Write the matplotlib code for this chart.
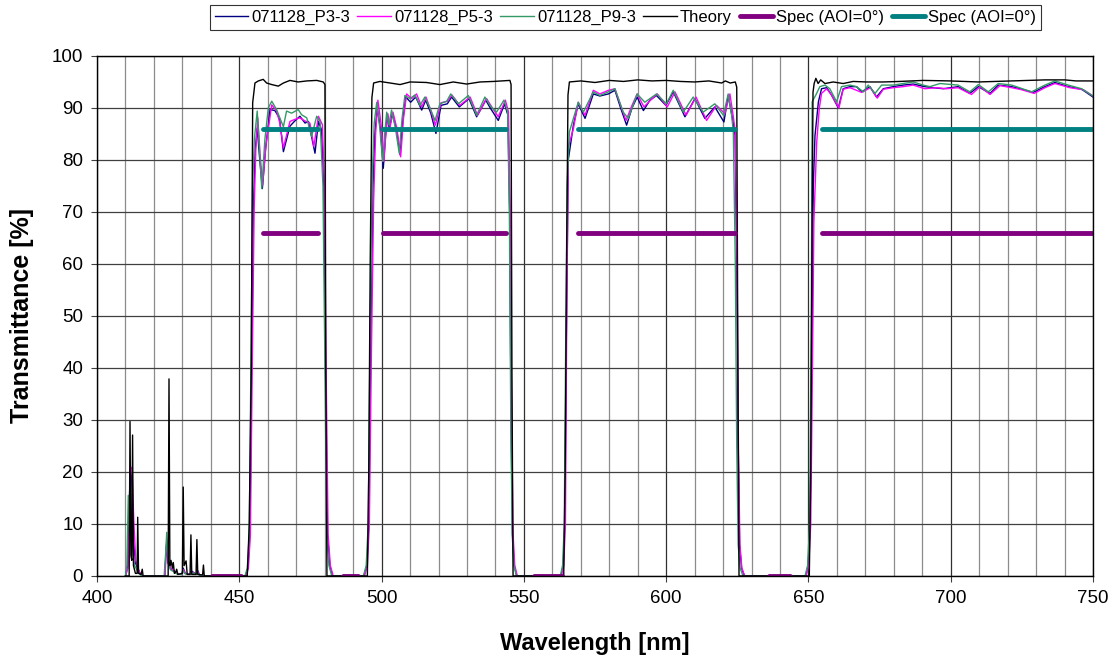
import matplotlib
matplotlib.use("Agg")
import matplotlib.pyplot as plt
import numpy as np

plt.rcParams['font.family'] = ['Liberation Sans', 'DejaVu Sans']

# ---- measured sample P3-3 (navy) ----
wl_p3 = ([410.0, 410.8, 411.2, 411.7, 412.2, 412.8, 413.5, 414.3, 415.0, 416.0, 423.8, 424.4, 425.0,
          425.8, 427.0, 428.0, 429.8, 430.3, 431.0, 432.8, 433.1, 434.9, 435.2, 436.2, 452.2]
         + [453.0, 453.7, 454.3, 455.0, 455.6, 456.3, 457.2, 458.1, 459.2, 460.8, 462.5, 464.1, 465.5,
            467.8, 469.5, 471.3, 473.1, 474.3, 476.6, 477.8, 478.9, 479.7, 480.3, 481.0, 481.8, 482.8]
         + [493.8, 494.8, 495.5, 496.2, 497.0, 497.6, 498.5, 499.6, 500.6, 501.3, 502.0, 502.7, 503.8,
            505.2, 506.5, 507.5, 508.5, 510.2, 512.0, 514.1, 515.5, 517.3, 519.1, 520.9, 523.1, 524.6,
            527.3, 530.7, 533.4, 536.6, 538.3, 541.0, 543.2, 544.4, 545.0, 545.5, 546.0, 546.6, 547.5]
         + [563.0, 563.8, 564.4, 564.9, 565.6, 567.4, 569.1, 571.5, 574.4, 576.7, 579.7, 582.0, 584.0,
            586.1, 588.0, 589.8, 592.0, 594.3, 596.6, 599.9, 602.5, 606.6, 610.1, 613.6, 617.1, 620.3,
            621.8, 623.3, 624.2, 624.8, 625.3, 625.8, 626.5, 627.5]
         + [649.0, 649.9, 650.6, 651.2, 651.7, 652.3, 653.5, 654.6, 656.4, 658.1, 660.5, 662.2, 664.6,
            666.9, 668.7, 671.6, 673.9, 676.3, 679.8, 683.3, 686.8, 690.9, 693.8, 697.4, 702.6, 706.7,
            709.7, 713.8, 716.7, 721.4, 725.0, 729.0, 733.1, 736.6, 741.3, 746.0, 750.0])
t_p3 = ([0, 2, 12, 20, 19, 7, 2.5, 1.5, 0.6, 0, 0, 6, 2.5,
         1.5, 1.0, 0.5, 0.3, 1.5, 0.5, 0.3, 1.0, 0.3, 1.2, 0, 0]
        + [1.5, 8, 40, 72, 82, 86.1, 80, 74.5, 82, 89.7, 89.5, 88.1, 81.6,
           86.5, 87.5, 88.4, 87.1, 87.4, 81.3, 87.4, 85.8, 75, 40, 8, 2, 0]
        + [0, 2, 10, 45, 75, 85, 89.9, 86, 78.4, 84, 88.6, 86.0, 88.9,
           86, 81.0, 88, 92.1, 91.1, 92.1, 89.6, 91.5, 89, 85.1, 90.5, 90.8, 92.1,
           90.2, 91.8, 88.3, 91.5, 89.9, 87.6, 90.8, 88.6, 70, 30, 8, 2, 0]
        + [0, 2, 10, 45, 80.0, 86.7, 90.8, 88.0, 92.7, 92.3, 92.7, 93.4, 90,
           86.7, 90, 92.1, 89.5, 91.5, 92.4, 90.5, 93.1, 88.3, 91.8, 88.0, 90.2, 87.3,
           92.4, 88.0, 84.8, 60, 25, 6, 1.5, 0]
        + [0, 2, 10, 45, 75, 84.7, 91.2, 93.7, 93.9, 92.5, 90.0, 93.7, 94.1,
           94.1, 93.1, 94.1, 92.1, 93.7, 94.1, 94.4, 94.6, 94.1, 93.9, 93.7, 94.1, 92.8,
           94.1, 92.8, 94.4, 94.1, 93.6, 93.0, 94.1, 94.9, 94.1, 93.6, 92.1])

# ---- measured sample P5-3 (magenta) ----
wl_p5 = ([410.0, 410.9, 411.3, 411.8, 412.3, 412.9, 413.6, 414.4, 415.1, 416.1, 423.9, 424.5, 425.1,
          425.9, 427.1, 428.1, 429.9, 430.4, 431.1, 432.9, 433.2, 435.0, 435.3, 436.3, 452.4]
         + [453.2, 453.9, 454.5, 455.2, 455.8, 456.5, 457.3, 458.2, 459.4, 461.4, 463.1, 464.3, 465.5,
            467.8, 469.5, 471.3, 473.1, 474.8, 476.2, 477.8, 479.2, 479.9, 480.5, 481.2, 482.0, 483.0]
         + [494.0, 495.0, 495.7, 496.4, 497.2, 497.9, 498.7, 499.8, 500.8, 501.5, 502.2, 503.0, 504.0,
            505.4, 506.7, 507.7, 508.8, 510.6, 512.3, 514.1, 515.6, 517.3, 518.9, 520.9, 523.2, 524.7,
            527.5, 531.1, 533.7, 536.9, 538.7, 541.0, 543.5, 544.6, 545.2, 545.7, 546.2, 546.8, 547.7]
         + [563.2, 564.0, 564.6, 565.0, 565.6, 567.4, 569.1, 571.5, 574.4, 576.7, 579.7, 582.0, 584.0,
            585.9, 588.0, 589.8, 592.2, 594.5, 596.9, 600.4, 603.1, 607.0, 610.5, 614.2, 617.7, 620.6,
            622.4, 623.6, 624.3, 624.9, 625.4, 625.9, 626.6, 627.6]
         + [649.2, 650.1, 650.8, 651.4, 651.9, 652.9, 653.8, 654.6, 656.4, 658.1, 660.7, 662.2, 664.6,
            668.7, 671.8, 674.2, 676.3, 679.8, 683.3, 686.8, 690.9, 695.0, 698.5, 702.6, 707.3, 710.3,
            713.8, 717.3, 721.4, 725.0, 729.3, 733.1, 736.6, 741.9, 746.6, 750.0])
t_p5 = ([0, 1.5, 10, 21, 20.6, 11, 3, 1.5, 0.6, 0, 0, 7, 2.5,
         1.5, 1.0, 0.5, 0.3, 1.2, 0.5, 0.3, 0.8, 0.3, 1.0, 0, 0]
        + [1.5, 8, 38, 70, 82, 88.1, 81, 75.2, 83, 90.6, 89.4, 87, 82.3,
           87.4, 87.8, 88.1, 87.5, 87.1, 82.6, 88.4, 86.8, 75, 40, 8, 2, 0]
        + [0, 2, 10, 42, 72, 85, 91.5, 87, 79.7, 85, 88.9, 86.4, 89.2,
           86, 80.6, 88, 92.7, 91.8, 92.7, 90.2, 92.1, 89.5, 86.7, 91.0, 91.3, 92.5,
           90.5, 92.1, 88.6, 91.8, 90.2, 88.3, 91.5, 89.2, 70, 30, 8, 2, 0]
        + [0, 2, 10, 45, 82.5, 86.0, 91.1, 88.6, 93.4, 92.7, 93.4, 93.7, 90.5,
           87.6, 90.5, 92.7, 90.2, 91.5, 92.7, 90.2, 93.1, 88.6, 92.1, 87.6, 90.5, 88.9,
           92.7, 88.3, 85.4, 60, 25, 6, 1.5, 0]
        + [0, 2, 10, 40, 68, 83.4, 89.9, 92.8, 93.7, 92.5, 90.0, 93.6, 93.9,
           93.0, 93.9, 91.9, 93.6, 93.9, 94.1, 94.4, 93.7, 93.9, 93.7, 93.9, 92.6, 94.1,
           92.6, 94.3, 93.9, 93.5, 92.8, 93.9, 94.7, 93.9, 93.5, 92.3])

# ---- measured sample P9-3 (green) ----
wl_p9 = ([410.0, 410.5, 411.0, 411.4, 411.9, 412.5, 413.2, 414.0, 414.8, 415.8, 423.6, 424.2, 424.5,
          425.0, 425.8, 427.0, 428.0, 429.8, 430.3, 431.0, 432.8, 433.1, 434.9, 435.2, 436.2, 452.0]
         + [452.8, 453.5, 454.1, 454.7, 455.3, 456.3, 457.1, 457.9, 459.0, 460.2, 461.4, 463.1, 464.3,
            465.5, 466.6, 468.4, 470.7, 471.9, 473.7, 475.4, 477.2, 478.4, 479.4, 480.1, 480.7, 481.5, 482.5]
         + [493.6, 494.6, 495.3, 496.0, 496.8, 497.4, 498.3, 499.4, 500.4, 501.1, 501.8, 502.6, 503.5,
            504.9, 506.2, 507.2, 508.2, 510.0, 511.7, 513.5, 515.2, 517.0, 518.8, 520.5, 522.9, 524.3,
            527.0, 530.5, 533.4, 536.3, 538.1, 540.4, 543.0, 544.3, 544.9, 545.4, 545.9, 546.5, 547.4]
         + [562.8, 563.6, 564.2, 564.7, 565.2, 566.0, 567.4, 569.1, 570.9, 574.4, 576.7, 579.7, 582.0,
            584.9, 586.7, 589.8, 592.5, 596.6, 600.1, 602.5, 606.0, 609.5, 613.0, 617.1, 620.1, 621.8,
            623.0, 623.6, 624.3, 624.8, 625.3, 626.0, 627.0]
         + [648.8, 649.7, 650.4, 651.0, 651.3, 652.6, 654.0, 655.8, 657.5, 659.9, 661.6, 664.6, 666.9,
            669.3, 671.0, 673.4, 675.7, 679.8, 683.3, 686.8, 690.3, 692.7, 696.2, 702.6, 706.7, 709.7,
            713.2, 716.7, 721.4, 728.4, 733.1, 736.6, 741.3, 746.0, 750.0])
t_p9 = ([0, 2, 15.5, 8, 17, 6, 2, 1.2, 0.5, 0, 0, 5, 8.4,
         2.5, 1.2, 0.8, 0.4, 0.3, 1.0, 0.4, 0.3, 0.7, 0.3, 0.8, 0, 0]
        + [1.5, 8, 42, 75, 84, 89.4, 82, 74.5, 84, 90, 91.3, 89.7, 88,
           86.4, 89.4, 89.0, 89.7, 88.7, 88.1, 84.5, 88.4, 87.4, 75, 40, 8, 2, 0]
        + [0, 2, 10, 48, 78, 87, 91.1, 86, 79.7, 85, 89.2, 86.7, 89.6,
           86, 81.3, 88, 92.4, 91.8, 92.5, 90.5, 92.1, 90, 87.6, 90.8, 91.3, 92.7,
           90.8, 92.4, 88.6, 92.1, 90.5, 89.2, 91.5, 89.2, 70, 30, 8, 2, 0]
        + [0, 2, 10, 45, 75, 85.4, 88.0, 91.1, 89.2, 93.1, 92.4, 93.1, 93.7,
           89.2, 88.0, 92.7, 91.1, 92.7, 90.8, 93.4, 89.2, 92.1, 89.2, 90.8, 88.6, 92.7,
           88.6, 85.4, 60, 25, 6, 1.5, 0]
        + [0, 2, 10, 50, 91.2, 92.5, 94.1, 94.4, 93.7, 91.2, 94.1, 94.4, 94.1,
           93.1, 94.4, 92.8, 94.4, 94.4, 94.7, 95.0, 94.4, 94.1, 94.7, 94.4, 93.1, 94.5,
           93.1, 94.7, 94.4, 93.1, 94.4, 95.2, 94.4, 93.7, 92.3])

# ---- theory (black) ----
wl_th = ([410.0, 411.3, 411.6, 411.9, 412.2, 412.5, 412.8, 413.5, 414.1, 414.3, 414.6, 415.5, 415.9,
          416.2, 425.0, 425.3, 425.6, 426.0, 426.5, 426.8, 427.2, 427.7, 428.0, 428.4, 430.0, 430.3,
          430.6, 431.3, 431.7, 432.7, 433.0, 433.3, 434.8, 435.1, 435.4, 437.1, 437.4, 437.7, 452.8]
         + [453.5, 454.2, 454.7, 455.5, 456.7, 458.4, 459.6, 461.4, 463.7, 465.5, 467.8, 470.7, 473.7,
            477.2, 479.5, 480.1, 480.4, 480.8]
         + [495.0, 495.5, 496.0, 496.6, 497.2, 499.4, 503.0, 506.5, 510.0, 515.8, 520.5, 525.2, 529.9,
            534.6, 539.3, 545.1, 545.5, 545.8, 546.2]
         + [564.0, 564.5, 565.0, 565.5, 566.0, 570.0, 575.0, 580.0, 585.0, 590.0, 595.0, 600.0, 605.0,
            610.0, 615.0, 619.5, 620.8, 622.5, 624.3, 624.8, 625.2, 625.6]
         + [650.3, 650.8, 651.2, 651.6, 652.0, 652.6, 653.4, 654.3, 655.8, 658.7, 662.2, 665.7, 670.4,
            676.3, 682.1, 690.3, 699.7, 709.7, 721.4, 733.1, 740.1, 744.0, 750.0])
t_th = ([0, 0, 29.7, 4, 3, 27.1, 2, 0.5, 0.5, 11.3, 0.5, 0.3, 1.3,
         0, 0, 37.9, 2, 3, 1.5, 2.6, 0.5, 0.8, 1.3, 0.3, 0.5, 17.1,
         2, 2.9, 0.3, 0.3, 7.9, 0.3, 0.3, 7.0, 0.3, 0.2, 2.1, 0, 0]
        + [10, 40, 91.0, 94.8, 95.2, 95.5, 94.8, 94.5, 94.2, 94.8, 95.3, 95.0, 95.2,
           95.3, 95.0, 94.5, 40, 0]
        + [0, 20, 60, 92, 94.8, 95.1, 94.8, 94.5, 95.0, 94.9, 94.5, 95.0, 94.6,
           95.0, 95.1, 95.3, 94.5, 40, 0]
        + [0, 20, 60, 92.5, 95.0, 95.2, 94.9, 95.3, 95.1, 95.4, 95.2, 95.3, 95.1,
           95.0, 95.2, 94.8, 95.2, 94.8, 95.0, 94.0, 40, 0]
        + [0, 20, 60, 93.0, 94.7, 95.7, 94.7, 95.4, 94.7, 95.0, 94.7, 95.1, 95.0,
           95.0, 95.1, 95.3, 95.2, 95.0, 95.2, 95.4, 95.4, 95.2, 95.2])

# ---- specifications ----
pass_start = [458.3, 500.5, 569.0, 654.7]
pass_end = [477.7, 543.7, 624.2, 750.0]
pass_min = 66      # purple spec level in pass bands
pass_avg = 86      # teal spec level in pass bands
block_start = [440.3, 486.5, 553.5, 636.0]
block_end = [450.5, 491.8, 563.5, 643.5]
block_max = 0


def segments(starts, ends, level):
    xs, ys = [], []
    for a, b in zip(starts, ends):
        xs += [a, b, np.nan]
        ys += [level, level, np.nan]
    return xs, ys


fig = plt.figure(figsize=(11.15, 6.6), dpi=100)
ax = fig.add_axes([0.087, 0.1273, 0.8933, 0.7879])

ax.plot(wl_p3, t_p3, color='#000080', lw=1.0, label='071128_P3-3')
ax.plot(wl_p5, t_p5, color='#FF00FF', lw=1.0, label='071128_P5-3')
ax.plot(wl_p9, t_p9, color='#339966', lw=1.0, label='071128_P9-3')
ax.plot(wl_th, t_th, color='black', lw=1.0, label='Theory')

sx1, sy1 = segments(pass_start, pass_end, pass_min)
sx2, sy2 = segments(block_start, block_end, block_max)
ax.plot(sx1 + sx2, sy1 + sy2, color='#800080', lw=3.5, solid_capstyle='round',
        label='Spec (AOI=0°)')
sx3, sy3 = segments(pass_start, pass_end, pass_avg)
ax.plot(sx3, sy3, color='#008080', lw=3.5, solid_capstyle='round', label='Spec (AOI=0°)')

ax.set_xlim(400, 750)
ax.set_ylim(0, 100)
ax.set_xticks(np.arange(400, 751, 50))
ax.set_xticks(np.arange(400, 751, 10), minor=True)
ax.set_yticks(np.arange(0, 101, 10))
ax.grid(True, axis='x', which='minor', color='#8c8c8c', lw=0.9)
ax.grid(True, axis='x', which='major', color='#303030', lw=0.9)
ax.grid(True, axis='y', which='major', color='#404040', lw=0.9)
ax.set_axisbelow(True)
ax.tick_params(axis='both', which='major', labelsize=13.5, direction='out', length=4,
               width=0.8, color='#404040', pad=6)
ax.tick_params(axis='x', which='minor', length=0)
for s in ax.spines.values():
    s.set_color('black')
    s.set_linewidth(1.0)

ax.set_xlabel('Wavelength [nm]', fontsize=17, fontweight='bold', labelpad=18)
ax.set_ylabel('Transmittance [%]', fontsize=18, fontweight='bold', labelpad=13)

leg = fig.legend(loc='center', bbox_to_anchor=(0.561, 0.9735), ncol=6, fontsize=12,
                 frameon=True, fancybox=False, edgecolor='black', borderpad=0.3,
                 handlelength=2.0, handletextpad=0.2, columnspacing=0.45)
leg.get_frame().set_linewidth(0.8)

fig.savefig('out.png', dpi=100)
